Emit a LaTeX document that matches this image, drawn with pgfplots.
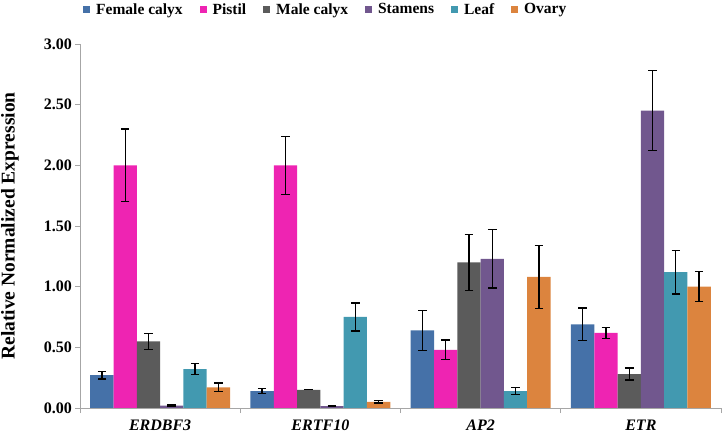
\documentclass[border=0pt]{standalone}
\usepackage{fontspec}
\setmainfont{Liberation Serif}
\usepackage{pgfplots}
\usepackage{pgfplotstable}
\pgfplotsset{compat=1.18}

\definecolor{cfem}{HTML}{4571A8}
\definecolor{cpis}{HTML}{EE24B2}
\definecolor{cmal}{HTML}{5B5B5B}
\definecolor{csta}{HTML}{71578E}
\definecolor{clea}{HTML}{4299B0}
\definecolor{cova}{HTML}{DC843E}
\definecolor{axgray}{HTML}{A6A6A6}

\pgfplotstableread{
x fem femE pis pisE mal malE sta staE lea leaE ova ovaE
0 0.27 0.03  2.00 0.30  0.55 0.065 0.02  0.005 0.32 0.045 0.17 0.035
1 0.14 0.02  2.00 0.24  0.15 0.0   0.015 0.005 0.75 0.115 0.05 0.01
2 0.64 0.165 0.48 0.08  1.20 0.23  1.23  0.24  0.14 0.03  1.08 0.26
3 0.69 0.135 0.62 0.045 0.28 0.05  2.45  0.33  1.12 0.18  1.00 0.125
}\data

\pgfplotsset{
  ybar legend/.style={legend image code/.code={\fill[#1, draw=none] (0bp,-3.5bp) rectangle (7bp,3.5bp);}},
}
\newcommand{\lgap}{\rule{15bp}{0pt}}

\begin{document}
\begin{tikzpicture}
\useasboundingbox (0,0) rectangle (722bp,442bp);
\begin{axis}[
  at={(80bp,34bp)}, anchor=south west,
  scale only axis, width=641bp, height=364bp,
  ybar=0pt, bar width=23.3bp,
  xmin=-0.5, xmax=3.5, ymin=0, ymax=3,
  axis x line=bottom, axis y line=left,
  axis line style={-, draw=axgray, line width=0.8bp},
  xtick={0,1,2,3},
  xticklabels={\textit{ERDBF3}, \textit{ERTF10}, \textit{AP2}, \textit{ETR}},
  minor xtick={-0.5,0.5,1.5,2.5,3.5},
  x tick style={draw=none},
  minor x tick style={draw=axgray, line width=0.8bp},
  minor tick length=5bp,
  ytick={0,0.5,...,3},
  y tick style={draw=axgray, line width=0.8bp},
  major tick length=4.5bp,
  tick align=outside,
  /pgf/number format/assume math mode=true,
  yticklabel style={/pgf/number format/.cd, fixed, fixed zerofill, precision=2},
  tick label style={font=\fontsize{16bp}{18bp}\selectfont\bfseries},
  xticklabel style={yshift=-4bp},
  ylabel={Relative Normalized Expression},
  ylabel style={at={(axis description cs:-0.09,0.5)}, anchor=south,
                font=\fontsize{19.5bp}{22bp}\selectfont\bfseries},
  legend columns=6,
  legend style={at={(0,1)}, anchor=north west, yshift=43bp, xshift=3bp,
                draw=none, fill=none, font=\fontsize{15.5bp}{17bp}\selectfont\bfseries,
                inner sep=0pt,
                /tikz/every odd column/.append style={column sep=4bp}},
  legend cell align=left,
  error bars/y dir=both, error bars/y explicit,
  error bars/error bar style={black, line width=1.3bp},
  error bars/error mark options={black, rotate=90, mark size=4.3bp, line width=1.3bp},
]
\addplot[fill=cfem, draw=none] table[x=x, y=fem, y error=femE] {\data};
\addplot[fill=cpis, draw=none] table[x=x, y=pis, y error=pisE] {\data};
\addplot[fill=cmal, draw=none] table[x=x, y=mal, y error=malE] {\data};
\addplot[fill=csta, draw=none] table[x=x, y=sta, y error=staE] {\data};
\addplot[fill=clea, draw=none] table[x=x, y=lea, y error=leaE] {\data};
\addplot[fill=cova, draw=none] table[x=x, y=ova, y error=ovaE] {\data};
\legend{Female calyx\lgap, Pistil\lgap, Male calyx\lgap,
        Stamens\lgap, Leaf\lgap, Ovary}
\end{axis}
\end{tikzpicture}
\end{document}
